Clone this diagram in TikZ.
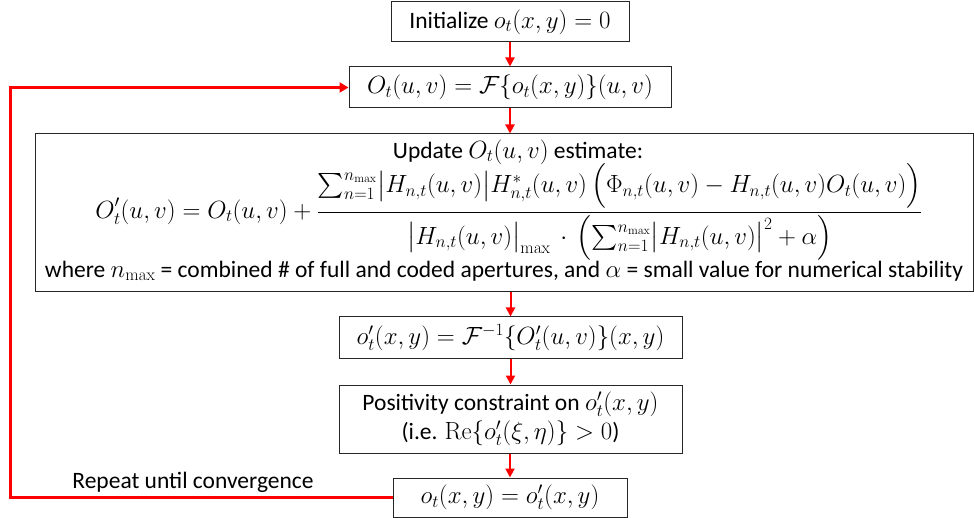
\documentclass[tikz,border=0pt]{standalone}
\usepackage{amsmath}
\usepackage[no-math]{fontspec}
\setmainfont{Carlito}
\usetikzlibrary{arrows.meta}
\tikzset{
  box/.style={draw=black!85, line width=1pt, inner sep=0pt, anchor=center, align=center,
              font=\fontsize{23.5}{28}\selectfont},
  txt/.style={inner sep=0pt, anchor=center, align=center, font=\fontsize{23.5}{28}\selectfont},
  flow/.style={draw=red, line width=2pt, -{Triangle[length=9pt,width=9pt]}},
  loopline/.style={draw=red, line width=3pt, -{Triangle[length=9pt,width=10pt]}},
}
\begin{document}
\begin{tikzpicture}[x=1pt,y=-1pt]
\useasboundingbox (0,0) rectangle (974,518);
\node[box, minimum width=238pt, minimum height=40pt] (b1) at (510,22) {Initialize $o_t(x,y)=0$};
\node[box, minimum width=322pt, minimum height=41pt] (b2) at (510,87.5) {$O_t(u,v)=\mathcal{F}\{o_t(x,y)\}(u,v)$};
\node[box, minimum width=938pt, minimum height=158pt] (b3) at (504,213) {};
\node[txt] (t1) at (518,152) {Update $O_t(u,v)$ estimate:};
\node[txt] (t2) at (509,212) {$\displaystyle O'_t(u,v)=O_t(u,v)+\frac{\sum\nolimits_{n=1}^{n_{\max}}\bigl|H_{n,t}(u,v)\bigr|H^*_{n,t}(u,v)\,\Bigl(\Phi_{n,t}(u,v)-H_{n,t}(u,v)O_t(u,v)\Bigr)}{\bigl|H_{n,t}(u,v)\bigr|_{\max}\,\cdot\,\Bigl(\sum\nolimits_{n=1}^{n_{\max}}\bigl|H_{n,t}(u,v)\bigr|^2+\alpha\Bigr)}$};
\node[txt] (t3) at (504,271) {where $n_{\max}$ = combined \# of full and coded apertures, and $\alpha$ = small value for numerical stability};
\node[box, minimum width=343pt, minimum height=41pt] (b4) at (510.5,337.5) {$o'_t(x,y)=\mathcal{F}^{-1}\{O'_t(u,v)\}(x,y)$};
\node[box, minimum width=343pt, minimum height=68pt] (b5) at (510.5,419) {Positivity constraint on $o'_t(x,y)$\\[1pt](i.e. $\mathrm{Re}\{o'_t(\xi,\eta)\}>0$)};
\node[box, minimum width=234pt, minimum height=39pt] (b6) at (510,497.5) {$o_t(x,y)=o'_t(x,y)$};
\node[txt] (rep) at (193,482) {Repeat until convergence};
\coordinate (lc) at (10,497.5);
\draw[flow] (b1) -- (b2);
\draw[flow] (b2) -- (b2 |- b3.north);
\draw[flow] (b3.south -| b4) -- (b4);
\draw[flow] (b4) -- (b5);
\draw[flow] (b5.south -| b6) -- (b6);
\draw[loopline] (b6.west) -- (lc) |- (b2.west);
\end{tikzpicture}
\end{document}
